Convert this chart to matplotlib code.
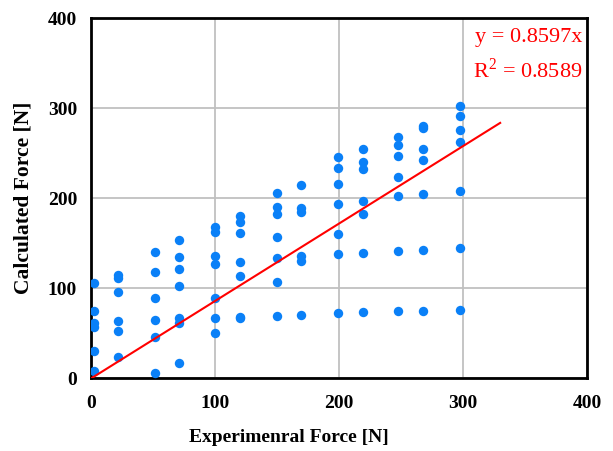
import numpy as np
from matplotlib import pyplot as plt

# experimental force columns and the calculated values at each one
exp_force = [2, 22, 52, 71, 100, 120, 150, 169, 199, 219, 248, 268, 298]
calc_force = [
    [106.3, 75.0, 61.7, 57.2, 30.5, 8.3],
    [114.7, 112.0, 95.8, 63.9, 52.8, 24.2],
    [140.2, 118.0, 89.8, 65.0, 46.4, 5.8],
    [153.9, 135.0, 121.7, 102.8, 66.9, 61.3, 17.6],
    [168.7, 162.4, 136.1, 126.9, 89.8, 67.6, 50.2],
    [180.6, 174.2, 161.3, 129.1, 113.9, 68.7, 66.9],
    [206.4, 189.8, 182.4, 157.6, 134.2, 107.6, 69.4],
    [214.7, 189.1, 185.3, 136.4, 130.6, 70.6],
    [245.3, 233.5, 216.1, 194.2, 160.2, 138.3, 72.4],
    [255.0, 240.2, 232.4, 197.2, 182.8, 139.8, 73.6],
    [268.0, 259.4, 246.9, 223.9, 203.1, 141.7, 74.7],
    [279.8, 277.6, 255.0, 242.0, 205.3, 142.8, 74.7],
    [302.0, 291.7, 275.8, 262.0, 208.3, 144.7, 75.8],
]
slope = 0.8597
r2 = 0.8589
fit_x = [0, 330]
ticks = [0, 100, 200, 300, 400]

plt.rcParams['font.family'] = ['Liberation Serif', 'DejaVu Serif']
plt.rcParams['mathtext.fontset'] = 'custom'
plt.rcParams['mathtext.rm'] = 'Liberation Serif'

x = np.concatenate([[xv] * len(ys) for xv, ys in zip(exp_force, calc_force)])
y = np.concatenate(calc_force)

fig = plt.figure(figsize=(6.13, 4.51), dpi=100)
ax = fig.add_axes([0.1485, 0.1608, 0.809, 0.799])

ax.grid(True, color='#c0c0c0', linewidth=1.3)
ax.set_axisbelow(True)
ax.scatter(x, y, s=46, color='#0a80f7', zorder=3, linewidths=0)
fx = np.array(fit_x)
ax.plot(fx, slope * fx, color='#ff0000', linewidth=1.5, zorder=4)

ax.set_xlim(0, 400)
ax.set_ylim(0, 400)
ax.set_xticks(ticks)
ax.set_yticks(ticks)
ax.tick_params(length=0, labelsize=14, pad=10)
ax.tick_params(axis='x', pad=12)
for lab in ax.get_xticklabels() + ax.get_yticklabels():
    lab.set_fontweight('bold')
for sp in ax.spines.values():
    sp.set_linewidth(2)

ax.set_ylabel('Calculated Force [N]', fontsize=15.5, fontweight='bold')
ax.yaxis.set_label_coords(-0.117, 0.5)
fig.text(289 / 613, 1 - 438 / 451, 'Experimenral Force [N]', fontsize=14,
         fontweight='bold', ha='center', va='center')

ax.text(0.99, 0.945, f'y = {slope}x', transform=ax.transAxes, color='#ff0000',
        fontsize=16, ha='right', va='center')
ax.text(0.99, 0.856, f'R$^2$ = {r2}', transform=ax.transAxes, color='#ff0000',
        fontsize=16, ha='right', va='center')

fig.savefig('out.png', dpi=100)
